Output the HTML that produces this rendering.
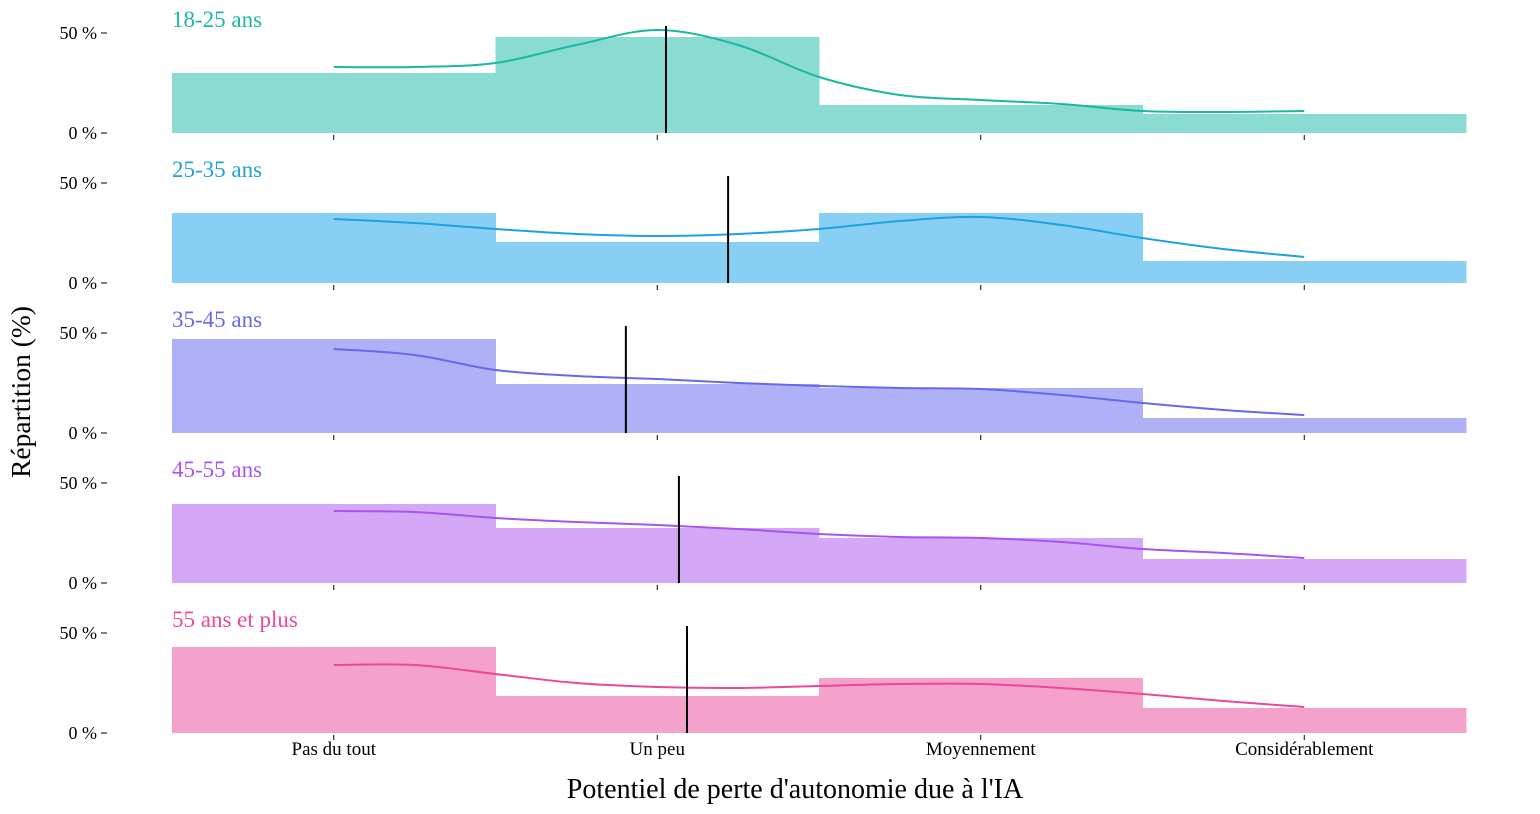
<!DOCTYPE html>
<html><head><meta charset="utf-8"><style>
body{margin:0;background:#fff;}
svg{display:block;font-family:"Liberation Serif",serif;}
</style></head><body>
<svg id="c" width="1540" height="814"></svg>
<script>
const categories=["Pas du tout","Un peu","Moyennement","Considérablement"];
const groups=["18-25 ans","25-35 ans","35-45 ans","45-55 ans","55 ans et plus"];
const barValues=[[30,48,14,9.5],[35,20.5,35,11],[47,24.5,22.5,7.5],[39.5,27.5,22.5,12],[43,18.5,27.5,12.5]];
const kdeX=[0,0.25,0.5,0.75,1,1.25,1.5,1.75,2,2.25,2.5,2.75,3];
const kdeValues=[
[33,33,35,44,51.5,44,28,19,16.5,14.5,11,10.5,11],
[32,30,27,24.5,23.5,24.5,27,31,33,29,22.5,17,13],
[42,39,31.5,28.5,27,25,23.5,22.5,22,19,15,11.5,9],
[36,35.5,32.5,30.5,29,27,24.5,23,22.5,20.5,17,15,12.5],
[34,34,29.5,25,23,22.5,23.5,24.5,24.5,22.5,19.5,16,13]];
const medians=[1.027,1.219,0.903,1.067,1.092];
const yTicks=[0,50];
const lineColors=["#1ab8a0","#1ea1e0","#6868ea","#a855f0","#ec4899"];
const fillColors=["#8adbd1","#88d0f3","#afb0f5","#d4a8f7","#f4a2cb"];
const NS="http://www.w3.org/2000/svg";
const svg=document.getElementById('c');
const x0=172,x1=1466,bw=(x1-x0)/4;
const xc=v=>x0+bw*(v+0.5);
function el(t,a,p){const e=document.createElementNS(NS,t);for(const k in a)e.setAttribute(k,a[k]);(p||svg).appendChild(e);return e;}
groups.forEach((g,i)=>{
  const base=133+150*i;
  const ys=v=>base-v*2;
  const grp=el('g',{});
  
  
  barValues[i].forEach((v,j)=>{
    const r=el('rect',{x:x0+bw*j,y:ys(v),width:bw+0.5,height:v*2,fill:fillColors[i]},grp);
    
    
  });
  const pts=kdeX.map((t,k)=>[xc(t),ys(kdeValues[i][k])]);
  let d='M'+pts[0][0]+','+pts[0][1];
  for(let k=0;k<pts.length-1;k++){
    const p0=pts[Math.max(0,k-1)],p1=pts[k],p2=pts[k+1],p3=pts[Math.min(pts.length-1,k+2)];
    d+=' C'+(p1[0]+(p2[0]-p0[0])/6)+','+(p1[1]+(p2[1]-p0[1])/6)+' '+(p2[0]-(p3[0]-p1[0])/6)+','+(p2[1]-(p3[1]-p1[1])/6)+' '+p2[0]+','+p2[1];
  }
  const c=el('path',{d:d,fill:'none',stroke:lineColors[i],'stroke-width':2},grp);
  
  
  const m=el('line',{x1:xc(medians[i]),x2:xc(medians[i]),y1:ys(53.5),y2:base,stroke:'#000','stroke-width':2},grp);
  
  
  yTicks.forEach(t=>{
    el('line',{x1:101,x2:107,y1:ys(t),y2:ys(t),stroke:'#000'},grp);
    const tx=el('text',{x:97,y:ys(t)+6,'text-anchor':'end','font-size':18},grp);
    tx.textContent=t+' %';
    
    
  });
  categories.forEach((c2,j)=>el('line',{x1:xc(j),x2:xc(j),y1:base+2,y2:base+7,stroke:'#000'},grp));
  const tt=el('text',{x:172,y:ys(50)-6,'font-size':23,fill:lineColors[i]},grp);
  tt.textContent=g;
  
  
});
categories.forEach((c2,j)=>{
  const t=el('text',{x:xc(j),y:755,'text-anchor':'middle','font-size':19});
  t.textContent=c2;
  
  
});
const xl=el('text',{x:795,y:798,'text-anchor':'middle','font-size':28});
xl.textContent="Potentiel de perte d'autonomie due à l'IA";


const yl=el('text',{x:0,y:0,'text-anchor':'middle','font-size':27.5,transform:'translate(30,392) rotate(-90)'});
yl.textContent="Répartition (%)";


</script>
</body></html>
